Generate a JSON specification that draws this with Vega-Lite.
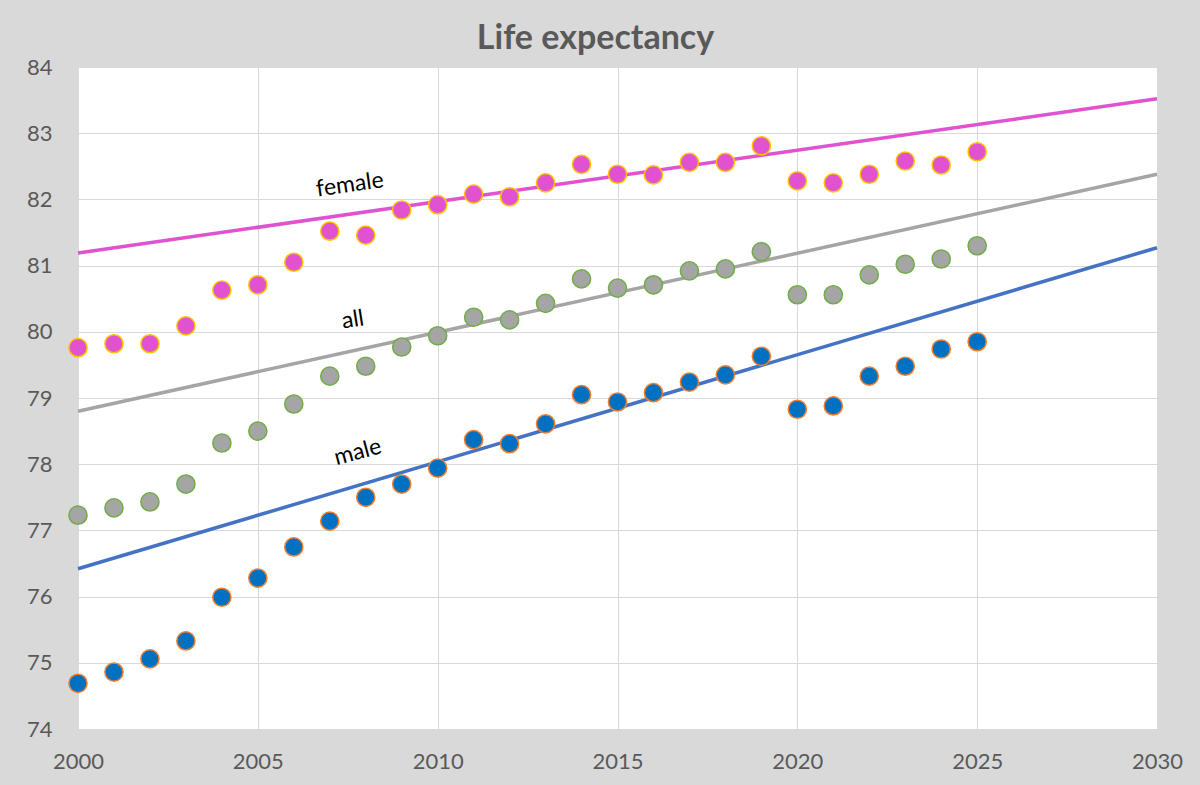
{
  "$schema": "https://vega.github.io/schema/vega-lite/v6.json",
  "width": 1079,
  "height": 662,
  "autosize": {"type": "none"},
  "padding": {"left": 78, "top": 67, "right": 43, "bottom": 56},
  "background": "#D9D9D9",
  "title": {
    "text": "Life expectancy",
    "font": "Lato",
    "fontSize": 34,
    "fontWeight": "bold",
    "color": "#595959",
    "anchor": "middle",
    "dx": -22,
    "offset": 0
  },
  "config": {
    "view": {"fill": "white", "stroke": null},
    "axis": {
      "labelFont": "Lato",
      "labelFontSize": 22,
      "labelColor": "#595959",
      "gridColor": "#D9D9D9",
      "gridWidth": 1,
      "domain": false,
      "ticks": false,
      "title": null
    }
  },
  "datasets": {
    "obs": [
      {"year": 2000, "group": "female", "value": 79.76},
      {"year": 2001, "group": "female", "value": 79.82},
      {"year": 2002, "group": "female", "value": 79.82},
      {"year": 2003, "group": "female", "value": 80.09},
      {"year": 2004, "group": "female", "value": 80.63},
      {"year": 2005, "group": "female", "value": 80.71},
      {"year": 2006, "group": "female", "value": 81.05},
      {"year": 2007, "group": "female", "value": 81.52},
      {"year": 2008, "group": "female", "value": 81.46},
      {"year": 2009, "group": "female", "value": 81.84},
      {"year": 2010, "group": "female", "value": 81.92},
      {"year": 2011, "group": "female", "value": 82.08},
      {"year": 2012, "group": "female", "value": 82.04},
      {"year": 2013, "group": "female", "value": 82.25},
      {"year": 2014, "group": "female", "value": 82.53},
      {"year": 2015, "group": "female", "value": 82.38},
      {"year": 2016, "group": "female", "value": 82.37},
      {"year": 2017, "group": "female", "value": 82.56},
      {"year": 2018, "group": "female", "value": 82.56},
      {"year": 2019, "group": "female", "value": 82.81},
      {"year": 2020, "group": "female", "value": 82.28},
      {"year": 2021, "group": "female", "value": 82.25},
      {"year": 2022, "group": "female", "value": 82.38},
      {"year": 2023, "group": "female", "value": 82.58},
      {"year": 2024, "group": "female", "value": 82.52},
      {"year": 2025, "group": "female", "value": 82.72},
      {"year": 2000, "group": "all", "value": 77.23},
      {"year": 2001, "group": "all", "value": 77.34},
      {"year": 2002, "group": "all", "value": 77.43},
      {"year": 2003, "group": "all", "value": 77.70},
      {"year": 2004, "group": "all", "value": 78.32},
      {"year": 2005, "group": "all", "value": 78.50},
      {"year": 2006, "group": "all", "value": 78.91},
      {"year": 2007, "group": "all", "value": 79.33},
      {"year": 2008, "group": "all", "value": 79.48},
      {"year": 2009, "group": "all", "value": 79.77},
      {"year": 2010, "group": "all", "value": 79.94},
      {"year": 2011, "group": "all", "value": 80.22},
      {"year": 2012, "group": "all", "value": 80.18},
      {"year": 2013, "group": "all", "value": 80.43},
      {"year": 2014, "group": "all", "value": 80.80},
      {"year": 2015, "group": "all", "value": 80.66},
      {"year": 2016, "group": "all", "value": 80.71},
      {"year": 2017, "group": "all", "value": 80.92},
      {"year": 2018, "group": "all", "value": 80.95},
      {"year": 2019, "group": "all", "value": 81.21},
      {"year": 2020, "group": "all", "value": 80.56},
      {"year": 2021, "group": "all", "value": 80.56},
      {"year": 2022, "group": "all", "value": 80.86},
      {"year": 2023, "group": "all", "value": 81.02},
      {"year": 2024, "group": "all", "value": 81.10},
      {"year": 2025, "group": "all", "value": 81.30},
      {"year": 2000, "group": "male", "value": 74.69},
      {"year": 2001, "group": "male", "value": 74.86},
      {"year": 2002, "group": "male", "value": 75.06},
      {"year": 2003, "group": "male", "value": 75.33},
      {"year": 2004, "group": "male", "value": 75.99},
      {"year": 2005, "group": "male", "value": 76.28},
      {"year": 2006, "group": "male", "value": 76.75},
      {"year": 2007, "group": "male", "value": 77.14},
      {"year": 2008, "group": "male", "value": 77.50},
      {"year": 2009, "group": "male", "value": 77.70},
      {"year": 2010, "group": "male", "value": 77.94},
      {"year": 2011, "group": "male", "value": 78.37},
      {"year": 2012, "group": "male", "value": 78.31},
      {"year": 2013, "group": "male", "value": 78.61},
      {"year": 2014, "group": "male", "value": 79.05},
      {"year": 2015, "group": "male", "value": 78.94},
      {"year": 2016, "group": "male", "value": 79.08},
      {"year": 2017, "group": "male", "value": 79.24},
      {"year": 2018, "group": "male", "value": 79.35},
      {"year": 2019, "group": "male", "value": 79.63},
      {"year": 2020, "group": "male", "value": 78.83},
      {"year": 2021, "group": "male", "value": 78.88},
      {"year": 2022, "group": "male", "value": 79.33},
      {"year": 2023, "group": "male", "value": 79.48},
      {"year": 2024, "group": "male", "value": 79.74},
      {"year": 2025, "group": "male", "value": 79.85}
    ],
    "trend": [
      {"year": 2000, "group": "female", "value": 81.19},
      {"year": 2030, "group": "female", "value": 83.52},
      {"year": 2000, "group": "all", "value": 78.80},
      {"year": 2030, "group": "all", "value": 82.38},
      {"year": 2000, "group": "male", "value": 76.42},
      {"year": 2030, "group": "male", "value": 81.27}
    ],
    "labels": [
      {"year": 2007.56, "value": 82.22, "label": "female"},
      {"year": 2007.64, "value": 80.18, "label": "all"},
      {"year": 2007.78, "value": 78.18, "label": "male"}
    ]
  },
  "encoding": {
    "x": {
      "field": "year",
      "type": "quantitative",
      "scale": {"domain": [2000, 2030], "nice": false, "zero": false},
      "axis": {
        "values": [2000, 2005, 2010, 2015, 2020, 2025, 2030],
        "format": "d",
        "labelPadding": 22,
        "labelFlush": false
      }
    },
    "y": {
      "field": "value",
      "type": "quantitative",
      "scale": {"domain": [74, 84], "nice": false, "zero": false},
      "axis": {
        "values": [74, 75, 76, 77, 78, 79, 80, 81, 82, 83, 84],
        "labelPadding": 26
      }
    }
  },
  "layer": [
    {
      "data": {"name": "trend"},
      "mark": {"type": "line", "strokeWidth": 3.5},
      "encoding": {
        "color": {
          "field": "group",
          "type": "nominal",
          "scale": {"domain": ["female", "all", "male"], "range": ["#E052D0", "#A5A5A5", "#4472C4"]},
          "legend": null
        }
      }
    },
    {
      "data": {"name": "obs"},
      "mark": {"type": "point", "shape": "circle", "filled": true, "size": 330, "strokeWidth": 1.5, "opacity": 1},
      "encoding": {
        "fill": {
          "field": "group",
          "type": "nominal",
          "scale": {"domain": ["female", "all", "male"], "range": ["#E052D0", "#A5A5A5", "#0070C0"]},
          "legend": null
        },
        "stroke": {
          "field": "group",
          "type": "nominal",
          "scale": {"domain": ["female", "all", "male"], "range": ["#FFC000", "#70AD47", "#ED7D31"]},
          "legend": null
        }
      }
    },
    {
      "data": {"name": "labels"},
      "transform": [{"filter": "datum.label === 'female'"}],
      "mark": {"type": "text", "font": "Lato", "fontSize": 23, "color": "black", "angle": 352},
      "encoding": {"text": {"field": "label"}}
    },
    {
      "data": {"name": "labels"},
      "transform": [{"filter": "datum.label === 'all'"}],
      "mark": {"type": "text", "font": "Lato", "fontSize": 23, "color": "black", "angle": 351},
      "encoding": {"text": {"field": "label"}}
    },
    {
      "data": {"name": "labels"},
      "transform": [{"filter": "datum.label === 'male'"}],
      "mark": {"type": "text", "font": "Lato", "fontSize": 23, "color": "black", "angle": 345},
      "encoding": {"text": {"field": "label"}}
    }
  ]
}
